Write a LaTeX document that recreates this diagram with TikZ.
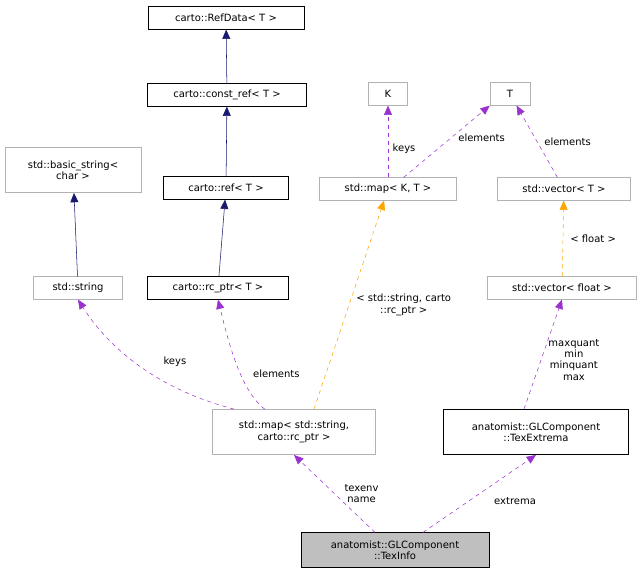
\documentclass[tikz,border=0pt]{standalone}
\usepackage{fontspec}
\setmainfont{DejaVu Sans}
\usetikzlibrary{arrows.meta}
\definecolor{navyc}{RGB}{25,25,112}
\definecolor{purc}{RGB}{154,50,205}
\definecolor{orac}{RGB}{255,165,0}
\begin{document}
\begin{tikzpicture}[x=0.75pt,y=-0.75pt,font=\fontsize{7.5}{8.6}\selectfont,
  box/.style={draw=#1,fill=white,minimum height=17pt,inner sep=2pt,align=center},
  box/.default=black,
  gbox/.style={box=gray!60},
  nav/.style={draw=navyc,-{Triangle[length=7pt,width=6pt,fill=navyc]}},
  pur/.style={draw=purc,dashed,-{Triangle[length=7pt,width=6pt,fill=purc]}},
  ora/.style={draw=orac,dashed,-{Triangle[length=7pt,width=6pt,fill=orac]}},
  lab/.style={font=\fontsize{7.5}{8.6}\selectfont,align=center,text=black}]
\useasboundingbox (0,0) rectangle (643,576);
\node[box,minimum width=117pt] (refdata) at (226,18) {carto::RefData< T >};
\node[box,minimum width=119pt] (constref) at (227,95) {carto::const\_ref< T >};
\node[box,minimum width=94pt] (ref) at (226,188) {carto::ref< T >};
\node[box,minimum width=106pt] (rcptr) at (218,288) {carto::rc\_ptr< T >};
\node[gbox,minimum width=102pt,minimum height=34pt] (bstr) at (73,170) {std::basic\_string<\\char >};
\node[gbox,minimum width=67pt] (str) at (78,288) {std::string};
\node[gbox,minimum width=29pt] (K) at (388,94) {K};
\node[gbox,minimum width=30pt] (T) at (510,94) {T};
\node[gbox,minimum width=103pt] (mapKT) at (388,189) {std::map< K, T >};
\node[gbox,minimum width=100pt] (vecT) at (564,189) {std::vector< T >};
\node[gbox,minimum width=112pt] (vecf) at (562,288) {std::vector< float >};
\node[gbox,minimum width=122pt,minimum height=34pt] (mapS) at (294,432) {std::map< std::string,\\carto::rc\_ptr >};
\node[box,minimum width=139pt,minimum height=34pt] (tex) at (536,432) {anatomist::GLComponent\\::TexExtrema};
\node[box,fill=gray!50,minimum width=141pt,minimum height=26pt] (info) at (395,550) {anatomist::GLComponent\\::TexInfo};
\draw[nav] (constref) -- (refdata);
\draw[nav] (ref) -- (constref);
\draw[nav] (rcptr) -- (ref);
\draw[nav] (str) -- (bstr);
\draw[pur] (mapKT) -- node[lab,right,pos=0.4] {keys} (K);
\draw[pur] ([xshift=-40pt]mapKT.north east) -- node[lab,right,pos=0.55,xshift=2pt] {elements} (T.south west);
\draw[pur] (vecT) -- node[lab,right,pos=0.5,xshift=2pt] {elements} (T);
\draw[ora] (vecf) -- node[lab,right,pos=0.5,xshift=2pt] {< float >} (vecT);
\draw[ora] ([xshift=15pt]mapS.north) -- node[lab,right,pos=0.5,xshift=2pt] {< std::string, carto\\::rc\_ptr >} (mapKT);
\draw[pur] ([xshift=-45pt]mapS.north) .. controls (160,390) and (110,350) .. node[lab,pos=0.45,above right,xshift=8pt] {keys} (str.south);
\draw[pur] ([xshift=-22pt]mapS.north) .. controls (240,390) and (228,340) .. node[lab,pos=0.4,right,xshift=6pt] {elements} (rcptr.south);
\draw[pur] ([xshift=-15pt]info.north) -- node[lab,right,pos=0.5,xshift=4pt] {texenv\\name} (mapS.south);
\draw[pur] ([xshift=21pt]info.north) -- node[lab,right,pos=0.4,xshift=16pt] {extrema} (tex.south);
\draw[pur] ([xshift=-9pt]tex.north) -- node[lab,right,pos=0.45,xshift=2pt] {maxquant\\min\\minquant\\max} (vecf.south);
\end{tikzpicture}
\end{document}
